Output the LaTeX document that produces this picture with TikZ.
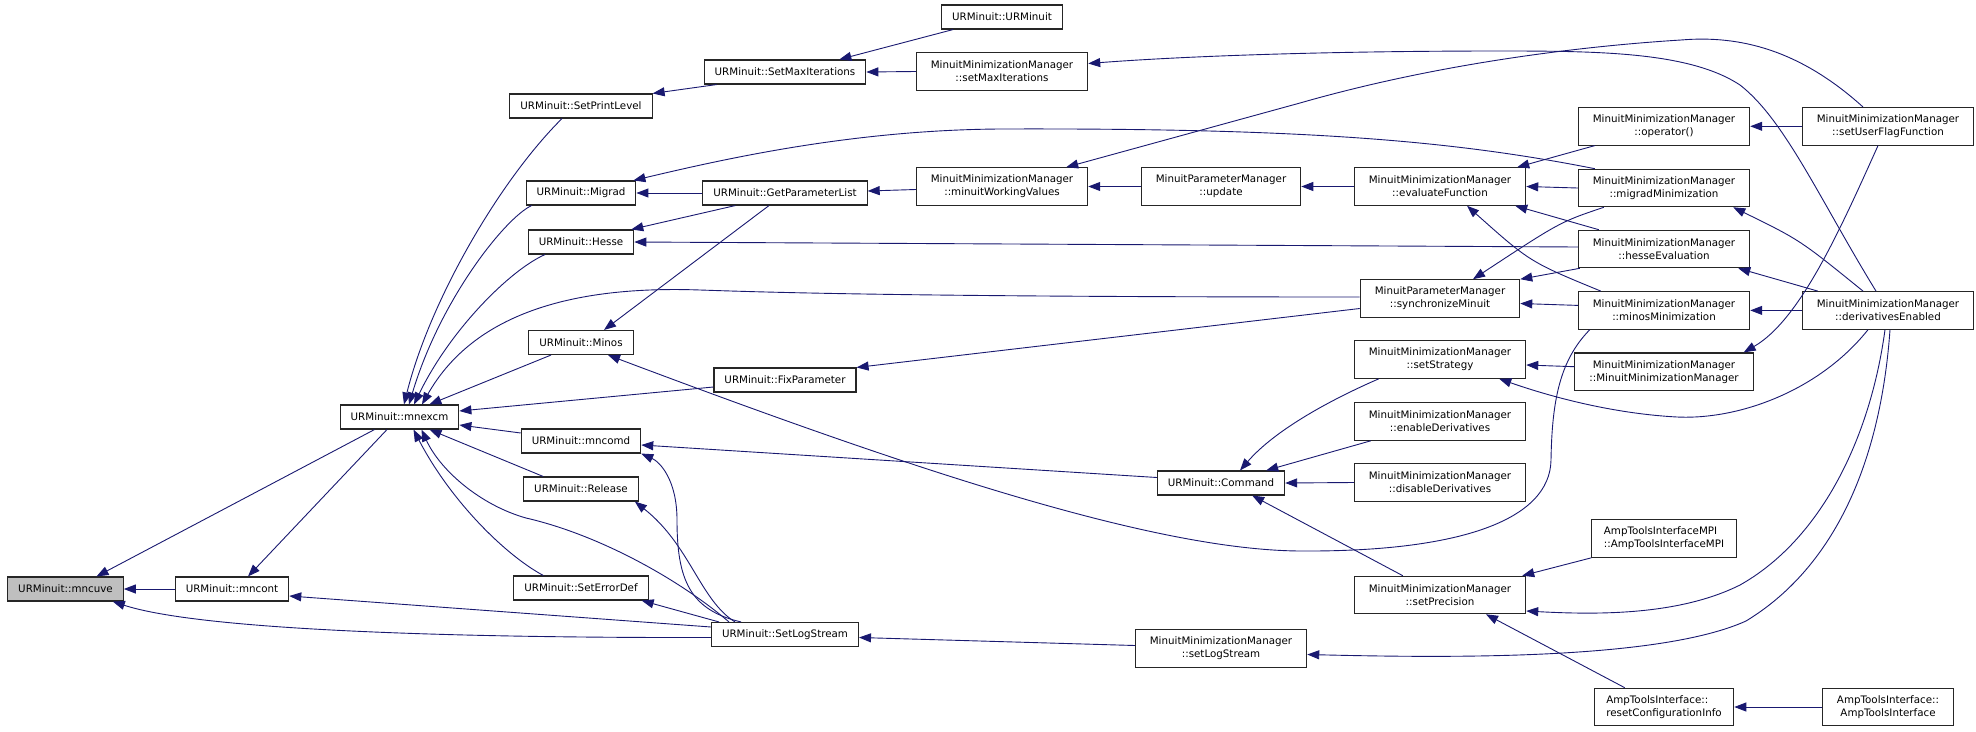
\documentclass[tikz,border=0pt]{standalone}
\usepackage{fontspec}
\newfontfamily\dvsans{DejaVu Sans}
\usepackage{xcolor}
\usepackage{tikz}
\usetikzlibrary{arrows.meta, calc}

\definecolor{edgeblue}{HTML}{191970}
\definecolor{basegray}{HTML}{BFBFBF}

\tikzset{
  fn/.style={draw=black!85, line width=1.1pt, fill=white, inner xsep=10.5pt, inner ysep=0pt,
    minimum height=24pt, font=\dvsans\fontsize{10.3}{13}\selectfont},
  fntwo/.style={fn, align=center, inner xsep=14.5pt, minimum height=37.5pt},
  fnamp/.style={fn, align=left, inner xsep=12pt, minimum height=37.5pt},
  call/.style={draw=edgeblue, line width=0.9pt, -{Triangle[length=12pt,width=9pt]}},
}

\begin{document}
\begin{tikzpicture}[x=1pt, y=-1pt]
        \useasboundingbox (0,0) rectangle (1976,731);

        % URMinuit functions
        \node[fn, fill=basegray] (mncuve) at (65.5,589) {URMinuit::mncuve};
        \node[fn] (mncont) at (232,589) {URMinuit::mncont};
        \node[fn] (mnexcm) at (399.5,417) {URMinuit::mnexcm};
        \node[fn] (printlvl) at (581,106) {URMinuit::SetPrintLevel};
        \node[fn] (migrad) at (581,193) {URMinuit::Migrad};
        \node[fn] (hesse) at (581,242) {URMinuit::Hesse};
        \node[fn] (minos) at (581,342.5) {URMinuit::Minos};
        \node[fn] (mncomd) at (581,441) {URMinuit::mncomd};
        \node[fn] (release) at (581,489) {URMinuit::Release};
        \node[fn] (errdef) at (581,588) {URMinuit::SetErrorDef};
        \node[fn] (maxit) at (785,72) {URMinuit::SetMaxIterations};
        \node[fn] (parlist) at (785,193) {URMinuit::GetParameterList};
        \node[fn] (fixpar) at (785,380) {URMinuit::FixParameter};
        \node[fn] (logstr) at (785,634.5) {URMinuit::SetLogStream};
        \node[fn] (urminuit) at (1002,17) {URMinuit::URMinuit};
        \node[fn] (command) at (1221,483) {URMinuit::Command};

        % Minuit managers
        \node[fntwo] (mmmaxit) at (1002,71.5) {MinuitMinimizationManager\\::setMaxIterations};
        \node[fntwo] (workval) at (1002,186.5) {MinuitMinimizationManager\\::minuitWorkingValues};
        \node[fntwo] (update) at (1221,186.5) {MinuitParameterManager\\::update};
        \node[fntwo] (mmlogstr) at (1221,648.5) {MinuitMinimizationManager\\::setLogStream};
        \node[fntwo] (evalfn) at (1440,186.5) {MinuitMinimizationManager\\::evaluateFunction};
        \node[fntwo] (syncmin) at (1440,298.5) {MinuitParameterManager\\::synchronizeMinuit};
        \node[fntwo] (strategy) at (1440,359.5) {MinuitMinimizationManager\\::setStrategy};
        \node[fntwo] (enabled) at (1440,421.5) {MinuitMinimizationManager\\::enableDerivatives};
        \node[fntwo] (disabled) at (1440,482.5) {MinuitMinimizationManager\\::disableDerivatives};
        \node[fntwo] (precision) at (1440,595) {MinuitMinimizationManager\\::setPrecision};
        \node[fntwo] (oper) at (1664,126.3) {MinuitMinimizationManager\\::operator()};
        \node[fntwo] (migradmin) at (1664,188) {MinuitMinimizationManager\\::migradMinimization};
        \node[fntwo] (hesseev) at (1664,249) {MinuitMinimizationManager\\::hesseEvaluation};
        \node[fntwo] (minosmin) at (1664,310.4) {MinuitMinimizationManager\\::minosMinimization};
        \node[fntwo] (mmmctor) at (1664,371.7) {MinuitMinimizationManager\\::MinuitMinimizationManager};
        \node[fntwo] (userflag) at (1888,126.3) {MinuitMinimizationManager\\::setUserFlagFunction};
        \node[fntwo] (derivs) at (1888,310.4) {MinuitMinimizationManager\\::derivativesEnabled};

        % AmpTools
        \node[fnamp] (atimpi) at (1664,538.5) {AmpToolsInterfaceMPI\\::AmpToolsInterfaceMPI};
        \node[fnamp] (resetcfg) at (1664,707) {AmpToolsInterface::\\resetConfigurationInfo};
        \node[fntwo] (atiface) at (1888,707) {AmpToolsInterface::\\AmpToolsInterface};

        % calls into mncuve and mncont
        \draw[call] (mncont.west) -- (mncuve.east);
        \draw[call] ($(mnexcm.south)+(-25,0)$) -- ($(mncuve.north)+(31,0)$);
        \draw[call] ($(logstr.west)+(0,3)$) .. controls (450,638) and (200,630) .. ($(mncuve.south east)+(-11,0)$);
        \draw[call] ($(mnexcm.south)+(-12.5,0)$) -- ($(mncont.north)+(16,0)$);
        \draw[call] ($(logstr.west)+(0,-7.5)$) -- ($(mncont.east)+(0,7)$);

        % calls into mnexcm
        \draw[call] ($(printlvl.south)+(-19,0)$) .. controls (500,180) and (430,300) .. ($(mnexcm.north)+(4.5,0)$);
        \draw[call] ($(migrad.south west)+(6,0)$) .. controls (505,218) and (440,300) .. ($(mnexcm.north)+(9.5,0)$);
        \draw[call] ($(hesse.south)+(-36,0)$) .. controls (510,270) and (450,330) .. ($(mnexcm.north)+(14.5,0)$);
        \draw[call] ($(syncmin.west)+(0,-1.5)$) .. controls (900,297) and (760,292) .. (700,290)
            .. controls (560,285) and (470,320) .. ($(mnexcm.north)+(22.5,0)$);
        \draw[call] ($(minos.south)+(-30,0)$) -- ($(mnexcm.north east)+(-30,0)$);
        \draw[call] ($(fixpar.west)+(0,7)$) -- ($(mnexcm.east)+(0,-6)$);
        \draw[call] ($(mncomd.west)+(0,-8)$) -- ($(mnexcm.east)+(0,8)$);
        \draw[call] ($(release.north west)+(20,0)$) -- ($(mnexcm.south)+(30,0)$);
        \draw[call] ($(errdef.north west)+(30,0)$) .. controls (505,555) and (450,500) .. ($(mnexcm.south)+(14,0)$);
        \draw[call] ($(logstr.north west)+(18,0)$) .. controls (680,580) and (600,535) .. (526,518)
            .. controls (480,505) and (440,470) .. ($(mnexcm.south)+(22,0)$);

        % SetLogStream callers
        \draw[call] ($(logstr.north west)+(8,0)$) -- ($(errdef.south east)+(-7,0)$);
        \draw[call] ($(logstr.north west)+(24,0)$) .. controls (700,600) and (690,545) .. ($(release.south east)+(-4,0)$);
        \draw[call] ($(logstr.north west)+(30,0)$) .. controls (690,610) and (677,580) .. (677,520)
            .. controls (677,480) and (660,462) .. (mncomd.south east);
        \draw[call] ($(mmlogstr.west)+(0,-3)$) -- ($(logstr.east)+(0,3)$);

        % SetMaxIterations chain
        \draw[call] ($(maxit.south west)+(13,0)$) -- (printlvl.north east);
        \draw[call] ($(urminuit.south west)+(12,0)$) -- ($(maxit.north east)+(-27,0)$);
        \draw[call] (mmmaxit.west) -- (maxit.east);
        \draw[call] ($(derivs.north)+(-12,0)$) .. controls (1820,200) and (1785,120) .. (1740,85)
            .. controls (1690,52) and (1600,51) .. (1500,51)
            .. controls (1350,51) and (1200,55) .. ($(mmmaxit.east)+(0,-8)$);

        % Migrad, Hesse, Minos
        \draw[call] (parlist.west) -- (migrad.east);
        \draw[call] ($(migradmin.north west)+(17,0)$) .. controls (1450,140) and (1300,128) .. (1000,129)
            .. controls (850,130) and (720,160) .. ($(migrad.north east)+(-3,0)$);
        \draw[call] ($(parlist.south west)+(33,0)$) -- ($(hesse.north east)+(-3,0)$);
        \draw[call] ($(hesseev.west)+(0,-2)$) -- (hesse.east);
        \draw[call] ($(parlist.south)+(-16,0)$) -- ($(minos.north)+(23,0)$);
        \draw[call] ($(minosmin.south west)+(12,0)$) .. controls (1560,360) and (1552,400) .. (1551,460)
            .. controls (1550,520) and (1460,552) .. (1300,551)
            .. controls (1150,550) and (900,465) .. ($(minos.south)+(27,0)$);

        % working values
        \draw[call] ($(workval.west)+(0,3)$) -- ($(parlist.east)+(0,-2)$);
        \draw[call] (update.west) -- (workval.east);
        \draw[call] ($(userflag.north)+(-25,0)$) .. controls (1800,50) and (1740,35) .. (1681,40)
            .. controls (1600,45) and (1450,60) .. (1300,103) -- ($(workval.north east)+(-22,0)$);
        \draw[call] (evalfn.west) -- (update.east);

        % evaluateFunction and synchronizeMinuit
        \draw[call] ($(oper.south west)+(17,0)$) -- ($(evalfn.north east)+(-9,0)$);
        \draw[call] (migradmin.west) -- (evalfn.east);
        \draw[call] ($(hesseev.north west)+(21,0)$) -- ($(evalfn.south east)+(-11,0)$);
        \draw[call] ($(minosmin.north west)+(23,0)$) .. controls (1530,262) .. ($(evalfn.south)+(27,0)$);
        \draw[call] ($(migradmin.south west)+(26,0)$) .. controls (1560,222) .. ($(syncmin.north)+(33,0)$);
        \draw[call] ($(hesseev.south west)+(2,0)$) -- (syncmin.north east);
        \draw[call] ($(minosmin.west)+(0,-5)$) -- ($(syncmin.east)+(0,5)$);
        \draw[call] ($(syncmin.west)+(0,10)$) -- (fixpar.north east);

        % derivativesEnabled and setUserFlagFunction
        \draw[call] ($(derivs.north)+(-25,0)$) .. controls (1800,240) .. ($(migradmin.south east)+(-17,0)$);
        \draw[call] ($(derivs.north west)+(16,0)$) -- ($(hesseev.south east)+(-12,0)$);
        \draw[call] (derivs.west) -- (minosmin.east);
        \draw[call] (userflag.west) -- (oper.east);
        \draw[call] ($(userflag.south)+(-10,0)$) .. controls (1840,230) and (1800,320) .. ($(mmmctor.north east)+(-10,0)$);
        \draw[call] ($(mmmctor.west)+(0,-5)$) -- ($(strategy.east)+(0,5.5)$);
        \draw[call] ($(derivs.south)+(-20,0)$) .. controls (1820,390) and (1740,420) .. (1677,417)
            .. controls (1620,414) and (1560,400) .. ($(strategy.south east)+(-27,0)$);
        \draw[call] ($(derivs.south)+(-3,0)$) .. controls (1870,440) and (1820,540) .. (1740,585)
            .. controls (1680,615) and (1600,615) .. ($(precision.east)+(0,16)$);
        \draw[call] ($(derivs.south)+(2,0)$) .. controls (1880,470) and (1830,570) .. (1746,621)
            .. controls (1660,660) and (1450,658) .. ($(mmlogstr.east)+(0,6)$);

        % Command
        \draw[call] ($(command.west)+(0,-5.5)$) -- ($(mncomd.east)+(0,4)$);
        \draw[call] ($(strategy.south west)+(25,0)$) .. controls (1330,400) and (1275,430) .. ($(command.north)+(19,0)$);
        \draw[call] ($(enabled.south west)+(17,0)$) -- ($(command.north east)+(-19,0)$);
        \draw[call] (disabled.west) -- (command.east);
        \draw[call] ($(precision.north west)+(49,0)$) -- ($(command.south east)+(-33,0)$);

        % setPrecision callers
        \draw[call] (atimpi.south west) -- ($(precision.north east)+(-4,0)$);
        \draw[call] ($(resetcfg.north west)+(31,0)$) -- ($(precision.south)+(46,0)$);
        \draw[call] (atiface.west) -- (resetcfg.east);

    \end{tikzpicture}
\end{document}
